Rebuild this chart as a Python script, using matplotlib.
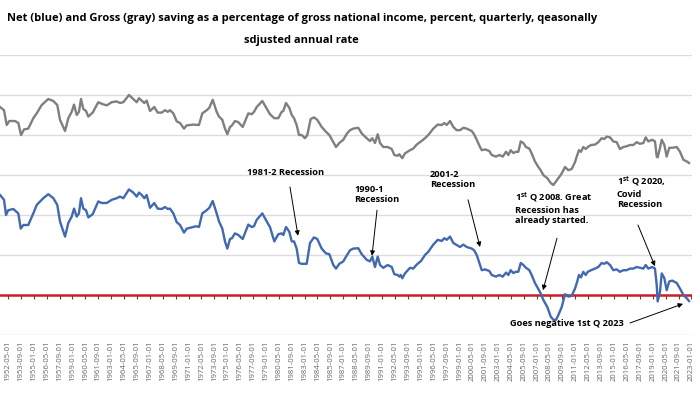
import matplotlib
matplotlib.use("Agg")
import matplotlib.pyplot as plt

# net saving (blue), percent of GNI
net_years = [1951.51, 1951.92, 1952.13, 1952.36, 1952.88, 1953.40, 1953.65, 1953.92, 1954.43, 1954.95,
             1955.30, 1955.82, 1955.98, 1956.50, 1957.02, 1957.43, 1957.71, 1958.23, 1958.57, 1958.92,
             1959.16, 1959.44, 1959.67, 1959.88, 1960.12, 1960.40, 1960.64, 1961.09, 1961.67, 1962.02,
             1962.54, 1963.06, 1963.57,
             1963.91, 1964.26, 1964.84, 1965.29, 1965.64, 1965.88, 1966.16, 1966.43, 1966.67, 1967.02,
             1967.46, 1967.81, 1968.23, 1968.57, 1968.85, 1969.08, 1969.43, 1969.78, 1970.12, 1970.53,
             1970.81, 1971.49, 1971.77, 1972.08, 1972.42, 1972.88, 1973.15, 1973.50, 1973.91, 1974.15,
             1974.49, 1974.77, 1975.01, 1975.29, 1975.49,
             1975.80, 1976.15, 1976.60, 1977.18, 1977.53, 1977.77, 1978.05, 1978.63, 1979.08, 1979.42,
             1979.87, 1980.28, 1980.63, 1980.80, 1981.08, 1981.42, 1981.67, 1981.91, 1982.18, 1982.42,
             1982.70, 1983.22, 1983.56, 1983.97, 1984.31, 1984.77, 1985.21, 1985.56, 1985.97, 1986.25,
             1986.59, 1987.00, 1987.39,
             1987.70, 1988.04, 1988.55, 1988.91, 1989.42, 1989.76, 1990.00, 1990.28, 1990.56, 1990.80,
             1991.14, 1991.59, 1992.01, 1992.28, 1992.63, 1992.79, 1992.94, 1993.10, 1993.38, 1993.90,
             1994.24, 1994.59, 1995.04, 1995.45, 1995.79, 1996.31, 1996.77, 1997.18, 1997.45, 1997.70,
             1998.04, 1998.38, 1998.73,
             1999.07, 1999.41, 1999.76, 2000.28, 2000.52, 2000.80, 2001.14, 2001.32, 2001.66, 2002.10,
             2002.35, 2002.79, 2003.14, 2003.49, 2003.83, 2004.07, 2004.31, 2004.58, 2004.86, 2005.10,
             2005.35, 2005.62, 2005.89, 2006.24, 2006.48, 2006.82, 2007.17, 2007.41, 2007.68, 2008.10,
             2008.45, 2008.72, 2009.00, 2009.24, 2009.59, 2009.93, 2010.27, 2010.62, 2010.96,
             2011.17, 2011.37, 2011.58, 2011.82, 2012.07, 2012.28, 2012.62, 2013.03, 2013.37, 2013.72,
             2013.99, 2014.24, 2014.58, 2014.92, 2015.27, 2015.61, 2015.96, 2016.31, 2016.65, 2016.99,
             2017.34, 2017.68, 2018.03, 2018.27, 2018.54, 2018.95, 2019.23, 2019.41, 2019.51, 2019.75,
             2019.93, 2020.20, 2020.44, 2020.71, 2021.02, 2021.48, 2021.82, 2022.17, 2022.51, 2022.75]
net_values = [12.5, 11.9, 10.0, 10.6, 10.75, 10.2, 8.3, 8.75, 8.75, 10.2,
              11.25, 11.9, 12.1, 12.6, 12.1, 11.25, 9.2, 7.3, 9.0, 9.8,
              10.8, 9.8, 10.2, 12.1, 10.8, 10.6, 9.7, 10.1, 11.7, 11.5,
              11.5, 11.9, 12.1,
              12.3, 12.1, 13.2, 12.8, 12.3, 12.8, 12.5, 12.1, 12.5, 10.9,
              11.5, 10.8, 10.75, 11.0, 10.75, 10.8, 10.2, 9.1, 8.75, 7.8,
              8.3, 8.5, 8.6, 8.5, 10.2, 10.6, 10.9, 11.75, 10.2, 9.2,
              8.3, 6.7, 5.8, 7.0, 7.1,
              7.7, 7.5, 7.0, 8.8, 8.5, 8.6, 9.4, 10.2, 9.2, 8.5,
              6.7, 7.6, 7.7, 7.5, 8.5, 7.9, 6.7, 6.7, 5.8, 4.0,
              3.9, 3.9, 6.5, 7.2, 7.0, 5.8, 5.2, 5.1, 3.75, 3.3,
              3.9, 4.2, 5.0,
              5.6, 5.8, 5.85, 5.1, 4.4, 4.2, 4.8, 3.5, 4.8, 3.75,
              3.4, 3.75, 3.5, 2.6, 2.5, 2.3, 2.5, 2.1, 2.7, 3.4,
              3.3, 3.8, 4.25, 5.0, 5.4, 6.3, 6.9, 6.75, 7.1, 6.9,
              7.3, 6.5, 6.25,
              6.0, 6.3, 6.0, 5.8, 5.6, 5.0, 3.75, 3.1, 3.2, 3.0,
              2.5, 2.3, 2.5, 2.3, 2.8, 2.5, 3.1, 2.75, 2.9, 2.9,
              4.0, 3.75, 3.4, 3.1, 2.5, 1.5, 0.75, 0.2, -0.6, -1.5,
              -2.7, -3.1, -3.1, -2.5, -1.5, 0.1, -0.2, -0.1, 0.8,
              1.6, 2.5, 2.2, 2.9, 2.5, 2.9, 3.1, 3.3, 3.5, 4.0,
              3.9, 4.1, 3.75, 3.1, 3.2, 2.9, 3.1, 3.1, 3.3, 3.3,
              3.5, 3.4, 3.3, 3.75, 3.3, 3.5, 3.3, 1.25, -0.8, 0.4,
              2.7, 2.1, 0.6, 1.7, 1.8, 1.5, 0.8, 0.0, -0.4, -0.75]

# gross saving (gray)
gross_years = [1951.51, 1951.92, 1952.20, 1952.47, 1953.06, 1953.40, 1953.68, 1953.99, 1954.43, 1954.95,
               1955.30, 1955.82, 1956.50, 1957.02, 1957.43, 1957.71, 1958.23, 1958.57, 1958.92, 1959.16,
               1959.44, 1959.67, 1959.88, 1960.12, 1960.40, 1960.64, 1961.09, 1961.67, 1962.02, 1962.54,
               1963.06, 1963.57,
               1963.91, 1964.26, 1964.84, 1965.29, 1965.64, 1965.88, 1966.16, 1966.43, 1966.67, 1967.02,
               1967.46, 1967.81, 1968.23, 1968.57, 1968.85, 1969.08, 1969.43, 1969.78, 1970.12, 1970.53,
               1970.81, 1971.49, 1972.08, 1972.42, 1972.88, 1973.15, 1973.50, 1973.91, 1974.15, 1974.49,
               1974.77, 1975.01, 1975.29, 1975.49,
               1975.80, 1976.15, 1976.60, 1977.18, 1977.53, 1977.77, 1978.05, 1978.63, 1979.08, 1979.42,
               1979.87, 1980.28, 1980.63, 1980.80, 1981.08, 1981.42, 1981.67, 1981.91, 1982.18, 1982.42,
               1982.70, 1983.04, 1983.28, 1983.63, 1983.97, 1984.31, 1984.77, 1985.21, 1985.56, 1985.97,
               1986.25, 1986.59, 1987.00, 1987.39,
               1987.70, 1988.04, 1988.55, 1988.91, 1989.42, 1989.76, 1990.00, 1990.28, 1990.56, 1990.80,
               1991.14, 1991.59, 1992.01, 1992.28, 1992.63, 1992.79, 1993.10, 1993.38, 1993.90, 1994.24,
               1994.59, 1995.04, 1995.45, 1995.79, 1996.31, 1996.77, 1997.18, 1997.45, 1997.70, 1998.04,
               1998.38, 1998.73,
               1999.07, 1999.41, 1999.76, 2000.28, 2000.52, 2000.80, 2001.14, 2001.32, 2001.66, 2002.10,
               2002.35, 2002.79, 2003.14, 2003.49, 2003.83, 2004.07, 2004.31, 2004.58, 2004.86, 2005.10,
               2005.35, 2005.62, 2005.89, 2006.24, 2006.48, 2006.82, 2007.17, 2007.41, 2007.68, 2008.10,
               2008.45, 2008.72, 2009.00, 2009.24, 2009.59, 2009.93, 2010.27, 2010.62, 2010.96,
               2011.14, 2011.37, 2011.58, 2011.82, 2012.07, 2012.28, 2012.62, 2013.03, 2013.37, 2013.72,
               2013.99, 2014.24, 2014.58, 2014.92, 2015.27, 2015.61, 2015.96, 2016.31, 2016.65, 2016.99,
               2017.34, 2017.68, 2018.03, 2018.27, 2018.54, 2018.95, 2019.23, 2019.41, 2019.51, 2019.75,
               2019.93, 2020.20, 2020.44, 2020.71, 2021.02, 2021.48, 2021.82, 2022.17, 2022.51, 2022.75]
gross_values = [23.5, 23.1, 21.25, 21.75, 21.75, 21.5, 20.0, 20.7, 20.8, 22.1,
                22.7, 23.75, 24.5, 24.25, 23.75, 21.9, 20.5, 22.1, 22.9, 23.8,
                22.5, 22.9, 24.5, 23.25, 23.0, 22.3, 22.8, 24.1, 23.9, 23.7,
                24.1, 24.2,
                24.0, 24.1, 25.0, 24.5, 24.1, 24.6, 24.3, 24.0, 24.3, 23.0,
                23.5, 22.8, 22.8, 23.1, 22.9, 23.1, 22.7, 21.7, 21.5, 20.8,
                21.2, 21.3, 21.25, 22.7, 23.1, 23.4, 24.4, 22.9, 22.3, 21.9,
                20.8, 20.1, 21.0, 21.2,
                21.75, 21.6, 21.0, 22.7, 22.6, 22.9, 23.5, 24.25, 23.3, 22.6,
                22.1, 22.1, 22.9, 23.0, 24.0, 23.4, 22.5, 22.1, 21.25, 20.0,
                20.0, 19.6, 20.0, 22.0, 22.2, 21.9, 21.0, 20.4, 20.0, 19.1,
                18.5, 19.0, 19.4, 20.2,
                20.6, 20.8, 20.9, 20.2, 19.6, 19.25, 19.6, 19.0, 20.1, 19.0,
                18.5, 18.5, 18.25, 17.5, 17.4, 17.6, 17.1, 17.7, 18.1, 18.3,
                18.8, 19.2, 19.6, 20.0, 20.8, 21.3, 21.25, 21.5, 21.25, 21.75,
                21.0, 20.6,
                20.6, 20.9, 20.8, 20.5, 20.1, 19.4, 18.5, 18.1, 18.2, 18.0,
                17.5, 17.3, 17.5, 17.3, 17.9, 17.5, 18.1, 17.75, 17.9, 17.9,
                19.2, 19.0, 18.5, 18.3, 17.7, 16.7, 16.0, 15.6, 15.0, 14.6,
                14.0, 13.75, 14.2, 14.6, 15.2, 16.0, 15.6, 15.75, 16.6,
                17.3, 18.1, 17.9, 18.5, 18.25, 18.5, 18.75, 18.8, 19.1, 19.6,
                19.5, 19.8, 19.7, 19.2, 19.1, 18.25, 18.5, 18.6, 18.75, 18.75,
                19.1, 18.9, 19.0, 19.7, 19.2, 19.4, 19.2, 17.3, 17.2, 18.4,
                19.4, 18.75, 17.3, 18.4, 18.4, 18.5, 17.9, 16.9, 16.7, 16.5]

# category labels on the x axis: every 16 months from 1952-05 to 2023-01
tick_months = [1952 * 12 + 4 + 16 * k for k in range(54)]
tick_labels = ["%d-%02d-01" % (m // 12, m % 12 + 1) for m in tick_months]
tick_pos = [m / 12 for m in tick_months]

title_line1 = "Net (blue) and Gross (gray) saving as a percentage of gross national income, percent, quarterly, qeasonally"
title_line2 = "sdjusted annual rate"

plt.rcParams["font.family"] = ["Open Sans", "DejaVu Sans"]
plt.rcParams["mathtext.fontset"] = "custom"
plt.rcParams["mathtext.rm"] = "Open Sans"
plt.rcParams["mathtext.bf"] = "Open Sans:bold"

fig = plt.figure(figsize=(7, 3.94), dpi=100)
ax = fig.add_axes([0, 59 / 394, 692.4 / 700, 280 / 394])
ax.set_xlim(1951.506, 2023.1)
ax.set_ylim(-5, 30)

ax.set_yticks(range(-5, 31, 5))
ax.yaxis.grid(True, color="#dcdcdc", lw=1.0)
ax.set_axisbelow(True)
ax.tick_params(axis="y", length=0, labelleft=False)
for s in ax.spines.values():
    s.set_visible(False)

ax.set_xticks(tick_pos, tick_labels, rotation=90, fontsize=5.6, color="#666666")
ax.tick_params(axis="x", length=0, pad=4)

ax.axhline(0, color="#c8202c", lw=1.8, zorder=2)
ax.vlines(tick_pos, -0.45, 0, colors="#a02828", lw=0.8, zorder=2)

ax.plot(gross_years, gross_values, color="#7f7f7f", lw=1.7, zorder=3, solid_joinstyle="round")
ax.plot(net_years, net_values, color="#4169b0", lw=1.7, zorder=4, solid_joinstyle="round")

fig.text(0.431, 1 - 18 / 394, title_line1, ha="center", va="center", fontsize=8.0, fontweight="bold")
fig.text(0.431, 1 - 40 / 394, title_line2, ha="center", va="center", fontsize=8.0, fontweight="bold")

txt = dict(fontsize=6.7, fontweight="bold", color="black", ha="left", va="center", linespacing=1.2, zorder=5)
arrow = dict(arrowstyle="-|>", color="black", lw=0.7, mutation_scale=7, shrinkA=0, shrinkB=0)

ax.text(1977.05, 15.25, "1981-2 Recession", **txt)
ax.annotate("", xy=(1982.32, 7.4), xytext=(1981.49, 13.5), arrowprops=arrow)

ax.text(1988.11, 12.6, "1990-1\nRecession", **txt)
ax.annotate("", xy=(1989.97, 4.9), xytext=(1990.49, 10.6), arrowprops=arrow)

ax.text(1995.97, 14.4, "2001-2\nRecession", **txt)
ax.annotate("", xy=(2001.14, 6.0), xytext=(1999.9, 11.9), arrowprops=arrow)

ax.text(2004.76, 10.9, "1$^{\\mathbf{st}}$ Q 2008. Great\nRecession has\nalready started.", **txt)
ax.annotate("", xy=(2007.65, 0.6), xytext=(2009.1, 7.1), arrowprops=arrow)

ax.text(2015.3, 12.9, "1$^{\\mathbf{st}}$ Q 2020,\nCovid\nRecession", **txt)
ax.annotate("", xy=(2019.23, 3.6), xytext=(2017.47, 8.75), arrowprops=arrow)

ax.text(2004.24, -3.5, "Goes negative 1st Q 2023", **txt)
ax.annotate("", xy=(2022.13, -1.1), xytext=(2016.65, -3.5), arrowprops=arrow)

fig.savefig("out.png", dpi=100)
